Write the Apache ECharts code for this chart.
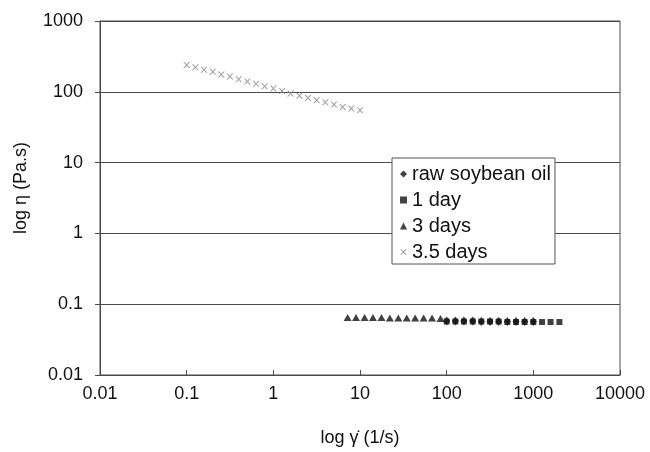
<!DOCTYPE html>
<html>
<head>
<meta charset="utf-8">
<script src="https://cdn.jsdelivr.net/npm/echarts@6/dist/echarts.min.js"></script>
<style>
  html, body { margin: 0; padding: 0; background: #fff; }
  #chart { width: 650px; height: 452px; }
</style>
</head>
<body>
<div id="chart"></div>
<script>
// Shear rate (1/s) and viscosity (Pa.s) for each aging time
const seriesNames = ['raw soybean oil', '1 day', '3 days', '3.5 days'];

const rateRaw = [100, 126, 158, 200, 251, 316, 398, 501, 631, 794, 1000];
const viscRaw = [0.058, 0.058, 0.058, 0.058, 0.057, 0.057, 0.057, 0.057, 0.057, 0.057, 0.057];

const rate1d = [100, 126, 158, 200, 251, 316, 398, 501, 631, 794, 1000, 1260, 1580, 2000];
const visc1d = [0.057, 0.057, 0.057, 0.057, 0.057, 0.057, 0.057, 0.056, 0.056, 0.056, 0.056, 0.056, 0.056, 0.056];

const rate3d = [7.2, 9.0, 11.3, 14.1, 17.7, 22.1, 27.7, 34.6, 43.3, 54.2, 67.8, 84.8];
const visc3d = [0.065, 0.065, 0.065, 0.065, 0.065, 0.064, 0.064, 0.064, 0.064, 0.064, 0.064, 0.063];

const rate35d = [0.1, 0.126, 0.158, 0.2, 0.251, 0.316, 0.398, 0.501, 0.631, 0.794, 1, 1.26, 1.58, 2, 2.51, 3.16, 3.98, 5.01, 6.31, 7.94, 10];
const visc35d = [239, 222, 205, 192, 176, 164, 151, 140, 130, 120, 111, 103, 95, 88, 82, 76, 71, 66, 61, 58, 55];

const xTicks = [0.01, 0.1, 1, 10, 100, 1000, 10000];
const yTicks = [0.01, 0.1, 1, 10, 100, 1000];

const zip = (xs, ys) => xs.map((x, i) => [x, ys[i]]);

const crossPath = 'path://M0,0 L2,0 L5,3 L8,0 L10,0 L6,4 L10,8 L8,8 L5,5 L2,8 L0,8 L4,4 Z';
const fmt = v => String(Number(v.toPrecision(6)));

const chart = echarts.init(document.getElementById('chart'), null, { renderer: 'canvas' });
const axisColor = '#4a4a4a';
const font = 'Liberation Sans, Arial, sans-serif';
const textColor = '#111';
const labelStyle = { color: textColor, fontFamily: font, fontSize: 18 };

chart.setOption({
  animation: false,
  backgroundColor: '#fff',
  grid: {
    left: 100, right: 30, top: 21, bottom: 74,
    show: true, borderColor: axisColor, borderWidth: 1, backgroundColor: 'transparent'
  },
  legend: {
    data: seriesNames,
    orient: 'vertical',
    left: 392, top: 158,
    padding: [6, 4, 2, 8],
    itemGap: 6,
    itemWidth: 7, itemHeight: 7,
    backgroundColor: '#fff',
    borderColor: '#555', borderWidth: 1,
    textStyle: { color: textColor, fontFamily: font, fontSize: 20 }
  },
  xAxis: {
    type: 'log', logBase: 10, min: 0.01, max: 10000,
    name: 'log γ̇ (1/s)', nameLocation: 'middle', nameGap: 54,
    nameTextStyle: { color: textColor, fontFamily: font, fontSize: 18 },
    axisLine: { show: true, lineStyle: { color: axisColor, width: 1 } },
    axisTick: { show: true, inside: true, length: 5, lineStyle: { color: axisColor } },
    axisLabel: { ...labelStyle, margin: 10, formatter: v => fmt(v), customValues: xTicks },
    splitLine: { show: false },
    minorTick: { show: false }
  },
  yAxis: {
    type: 'log', logBase: 10, min: 0.01, max: 1000,
    name: 'log η (Pa.s)', nameLocation: 'middle', nameGap: 70, nameRotate: 90,
    nameTextStyle: { color: textColor, fontFamily: font, fontSize: 18, padding: [0, 0, 0, 20] },
    axisLine: { show: true, lineStyle: { color: axisColor, width: 1 } },
    axisTick: { show: true, inside: false, length: 5, lineStyle: { color: axisColor } },
    axisLabel: { ...labelStyle, margin: 17, formatter: v => fmt(v), customValues: yTicks },
    splitLine: { show: true, lineStyle: { color: axisColor, width: 1 } }
  },
  series: [
    {
      name: seriesNames[1], type: 'scatter', z: 2,
      symbol: 'rect', symbolSize: 6,
      itemStyle: { color: '#111' },
      data: zip(rate1d, visc1d)
    },
    {
      name: seriesNames[0], type: 'scatter', z: 3,
      symbol: 'diamond', symbolSize: [7, 9],
      itemStyle: { color: '#111' },
      data: zip(rateRaw, viscRaw)
    },
    {
      name: seriesNames[2], type: 'scatter', z: 2,
      symbol: 'triangle', symbolSize: [8, 7],
      itemStyle: { color: '#111' },
      data: zip(rate3d, visc3d)
    },
    {
      name: seriesNames[3], type: 'scatter', z: 2,
      symbol: crossPath, symbolSize: [7, 6],
      itemStyle: { color: '#888' },
      data: zip(rate35d, visc35d)
    }
  ]
});
</script>
</body>
</html>
